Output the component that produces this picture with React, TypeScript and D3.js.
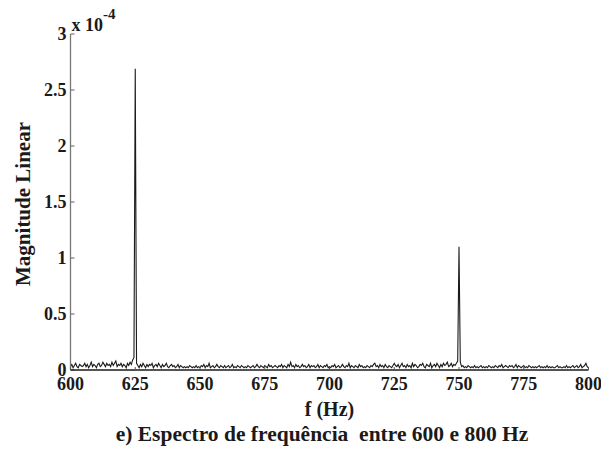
import React from "react";
import * as d3 from "d3";

// Spectrum magnitude, in units of 1e-6, sampled every 0.5 Hz from 600 Hz to 800 Hz
const freqStart = 600;
const freqStep = 0.5;
const magnitude: number[] = [
  3, 5, 2, 4, 6, 3, 2, 5, 4, 3,
  4, 6, 3, 5, 2, 4, 7, 3, 5, 4,
  2, 5, 6, 3, 4, 7, 5, 3, 6, 4,
  5, 3, 7, 4, 6, 8, 3, 5, 4, 6,
  3, 5, 4, 2, 6, 4, 7, 5, 9, 11,
  269, 6, 4, 2, 5, 3, 6, 4, 2, 5,
  3, 5, 4, 6, 2, 4, 5, 3, 6, 4,
  2, 5, 3, 4, 6, 3, 2, 4, 5, 3,
  4, 2, 3, 5, 2, 4, 3, 2, 3, 2,
  3, 2, 4, 3, 2, 3, 2, 4, 2, 3,
  2, 4, 3, 5, 2, 4, 3, 6, 2, 3,
  4, 2, 3, 5, 3, 2, 4, 3, 2, 4,
  2, 3, 4, 2, 3, 5, 2, 3, 2, 4,
  3, 2, 4, 3, 2, 3, 2, 4, 3, 2,
  3, 4, 2, 3, 5, 3, 2, 4, 3, 2,
  4, 3, 2, 5, 3, 4, 2, 3, 4, 3,
  2, 4, 3, 5, 2, 4, 3, 2, 5, 3,
  7, 3, 4, 2, 5, 3, 4, 2, 3, 5,
  3, 4, 2, 3, 5, 2, 4, 3, 4, 2,
  3, 5, 2, 4, 3, 2, 4, 3, 5, 2,
  3, 2, 4, 3, 5, 2, 3, 4, 2, 3,
  5, 3, 2, 4, 3, 6, 2, 4, 3, 2,
  4, 3, 2, 5, 3, 4, 2, 3, 2, 4,
  3, 2, 4, 3, 5, 6, 3, 4, 2, 5,
  3, 4, 2, 5, 3, 2, 4, 3, 2, 4,
  6, 4, 3, 5, 2, 4, 6, 3, 4, 2,
  5, 3, 4, 2, 6, 3, 5, 4, 2, 3,
  5, 4, 6, 3, 2, 5, 4, 3, 6, 2,
  4, 5, 3, 6, 4, 2, 5, 3, 6, 4,
  5, 7, 3, 4, 6, 3, 5, 4, 6, 8,
  110, 7, 3, 4, 2, 3, 2, 4, 3, 2,
  3, 2, 4, 2, 3, 2, 3, 4, 2, 3,
  2, 3, 2, 4, 3, 2, 3, 2, 4, 3,
  2, 4, 3, 5, 2, 3, 4, 3, 2, 4,
  3, 4, 2, 3, 5, 2, 4, 3, 2, 3,
  4, 2, 3, 2, 4, 3, 2, 3, 2, 3,
  2, 3, 4, 2, 3, 2, 3, 2, 4, 2,
  3, 2, 3, 2, 2, 3, 4, 2, 3, 2,
  2, 3, 2, 4, 2, 3, 2, 3, 4, 2,
  3, 4, 2, 3, 5, 2, 3, 4, 6, 3,
  2,
];

const xTicks = [600, 625, 650, 675, 700, 725, 750, 775, 800];
const yTicks = [0, 0.5, 1, 1.5, 2, 2.5, 3];
const yTickLabels = ["0", "0.5", "1", "1.5", "2", "2.5", "3"];

const xLabel = "f (Hz)";
const yLabel = "Magnitude Linear";
const caption = "e) Espectro de frequência  entre 600 e 800 Hz";

const W = 601;
const H = 465;
const margin = { left: 70.5, right: 12.5, top: 34, bottom: 95 };
const font = "'Liberation Serif', 'Times New Roman', serif";

export default function App() {
  const x = d3
    .scaleLinear()
    .domain([600, 800])
    .range([margin.left, W - margin.right]);
  const y = d3
    .scaleLinear()
    .domain([0, 3])
    .range([H - margin.bottom, margin.top]);

  // convert 1e-6 units to the 1e-4 axis units
  const points: [number, number][] = magnitude.map((m, i) => [
    freqStart + i * freqStep,
    m / 100,
  ]);
  const line = d3
    .line<[number, number]>()
    .x((d) => x(d[0]))
    .y((d) => y(d[1]));

  const x0 = x(600);
  const x1 = x(800);
  const yb = y(0);
  const yt = y(3);

  return (
    <svg
      width={W}
      height={H}
      style={{ position: "absolute", left: 0, top: 0, background: "#fff" }}
      fontFamily={font}
      fontWeight="bold"
    >
      <rect x={0} y={0} width={W} height={H} fill="#fff" />

      {/* data */}
      <path d={line(points) ?? ""} fill="none" stroke="#1a1a1a" strokeWidth={1.1} />

      {/* y axis */}
      <line x1={x0} x2={x0} y1={yt} y2={yb} stroke="#777" strokeWidth={1.3} />
      {yTicks.map((t, i) => (
        <g key={`y${t}`}>
          <line x1={x0} x2={x0 + 4} y1={y(t)} y2={y(t)} stroke="#777" strokeWidth={1.2} />
          <text
            x={x0 - 4}
            y={y(t) + 6}
            textAnchor="end"
            fontSize={18}
            fill="#1a1a1a"
          >
            {yTickLabels[i]}
          </text>
        </g>
      ))}

      {/* x axis */}
      <line x1={x0} x2={x1} y1={yb} y2={yb} stroke="#1a1a1a" strokeWidth={1.3} />
      {xTicks.map((t) => (
        <g key={`x${t}`}>
          <line x1={x(t)} x2={x(t)} y1={yb} y2={yb - 3} stroke="#555" strokeWidth={1} />
          <text x={x(t)} y={yb + 20} textAnchor="middle" fontSize={18} fill="#1a1a1a">
            {t}
          </text>
        </g>
      ))}

      {/* exponent */}
      <text x={x0 + 1} y={yt - 3} fontSize={18} fill="#1a1a1a">
        x 10
        <tspan dy={-12} fontSize={15}>
          -4
        </tspan>
      </text>

      {/* axis labels */}
      <text
        x={(x0 + x1) / 2}
        y={yb + 46}
        textAnchor="middle"
        fontSize={20}
        fill="#1a1a1a"
      >
        {xLabel}
      </text>
      <text
        transform={`translate(30, ${(yt + yb) / 2 + 2}) rotate(-90)`}
        textAnchor="middle"
        fontSize={21}
        fill="#1a1a1a"
      >
        {yLabel}
      </text>

      <text
        x={322}
        y={441}
        textAnchor="middle"
        fontSize={21.5}
        fill="#1a1a1a"
        style={{ whiteSpace: "pre" }}
      >
        {caption}
      </text>
    </svg>
  );
}
